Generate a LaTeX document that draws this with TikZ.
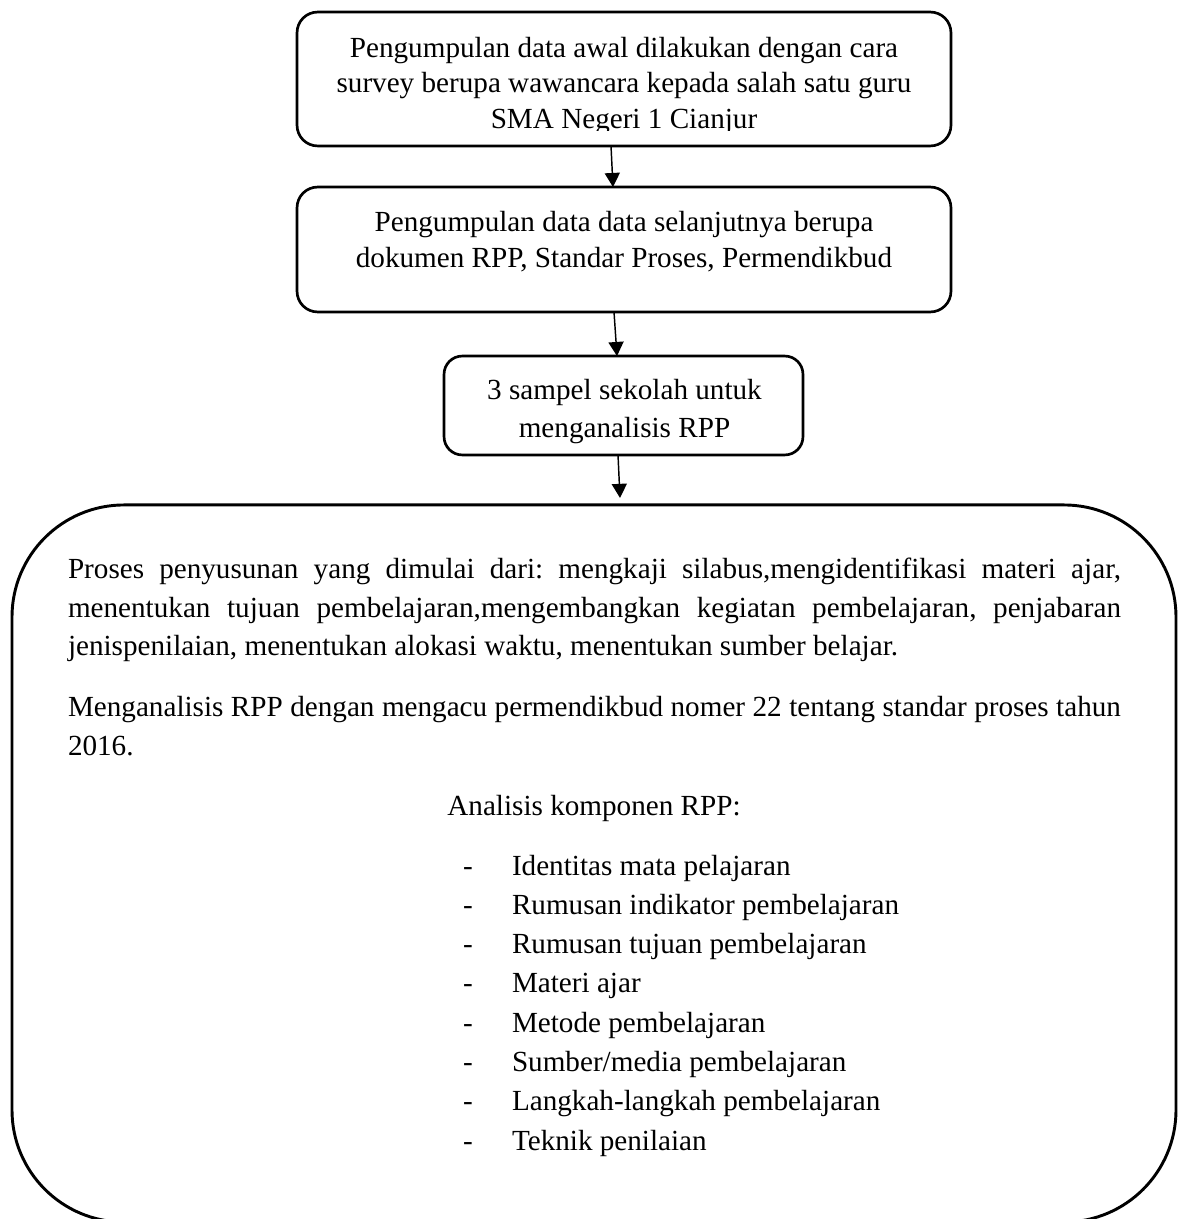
\documentclass[tikz,border=0pt]{standalone}
\usepackage{fontspec}
\setmainfont{Liberation Serif}
\usetikzlibrary{arrows.meta}
\frenchspacing
\begin{document}
\begin{tikzpicture}[x=0.41152pt,y=-0.41152pt,
  box/.style={draw,line width=1.1pt,rounded corners=8.5pt,inner sep=0pt,outer sep=0pt},
  arr/.style={line width=0.6pt,-{Triangle[length=5.8pt,width=6.2pt]}},
  ctr/.style={inner sep=0pt,outer sep=0pt,anchor=base,font=\fontsize{12pt}{15.9pt}\selectfont},
  lft/.style={inner sep=0pt,outer sep=0pt,anchor=base west,font=\fontsize{12pt}{15.9pt}\selectfont}]
\clip (0,0) rectangle (1184,1219);
% boxes
\node[box,minimum width=269.1pt,minimum height=55.1pt] (box1) at (624,79) {};
\node[box,minimum width=269.1pt,minimum height=51.4pt] (box2) at (624,249.5) {};
\node[box,minimum width=147.7pt,minimum height=40.7pt,rounded corners=7.5pt] (box3) at (623.5,405.5) {};
\node[box,line width=1.2pt,minimum width=479.0pt,minimum height=295.1pt,rounded corners=46.1pt] (big) at (594,863.5) {};
% box texts
\node[ctr] (t1a) at (624,58) {Pengumpulan data awal dilakukan dengan cara};
\node[ctr] (t1b) at (624,93) {survey berupa wawancara kepada salah satu guru};
\begin{scope}
\clip (297,12) rectangle (951,131);
\node[ctr] (t1c) at (624,129) {SMA Negeri 1 Cianjur};
\end{scope}
\node[ctr] (t2a) at (624,232) {Pengumpulan data data selanjutnya berupa};
\node[ctr] (t2b) at (624,268) {dokumen RPP, Standar Proses, Permendikbud};
\node[ctr] (t3a) at (624.5,399) {3 sampel sekolah untuk};
\node[ctr] (t3b) at (624.5,437) {menganalisis RPP};
% arrows
\draw[arr] ([shift={(-13,0)}]box1.south) -- ([shift={(-11,0)}]box2.north);
\draw[arr] ([shift={(-10,0)}]box2.south) -- ([shift={(-6.5,0)}]box3.north);
\draw[arr] ([shift={(-5.5,0)}]box3.south) -- ([shift={(26,-7)}]big.north);
% big box text
\node[lft] (p1a) at (68,578) {\makebox[433.3pt][s]{Proses penyusunan yang dimulai dari: mengkaji silabus,mengidentifikasi materi ajar,}};
\node[lft] (p1b) at (68,617) {\makebox[433.3pt][s]{menentukan tujuan pembelajaran,mengembangkan kegiatan pembelajaran, penjabaran}};
\node[lft] (p1c) at (68,655) {jenispenilaian, menentukan alokasi waktu, menentukan sumber belajar.};
\node[lft] (p2a) at (68,716) {\makebox[433.3pt][s]{Menganalisis RPP dengan mengacu permendikbud nomer 22 tentang standar proses tahun}};
\node[lft] (p2b) at (68,755) {2016.};
\node[ctr] (an) at (594,815) {Analisis komponen RPP:};
\foreach \i/\t in {0/Identitas mata pelajaran,1/Rumusan indikator pembelajaran,2/Rumusan tujuan pembelajaran,3/Materi ajar,4/Metode pembelajaran,5/Sumber\slash media pembelajaran,6/Langkah-langkah pembelajaran,7/Teknik penilaian}{
  \node[lft] (d\i) at (463,875+39.3*\i) {-};
  \node[lft] (li\i) at (512,875+39.3*\i) {\t};
}
\end{tikzpicture}
\end{document}
